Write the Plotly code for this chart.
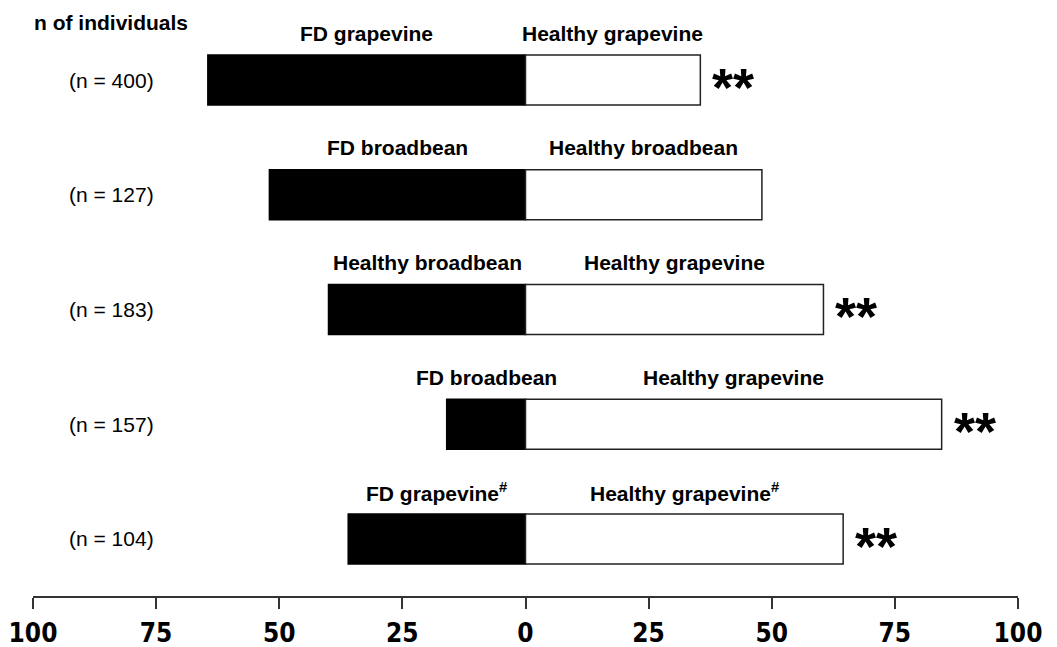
import plotly.graph_objects as go

rows = ["(n = 400)", "(n = 127)", "(n = 183)", "(n = 157)", "(n = 104)"]
left_labels = ["FD grapevine", "FD broadbean", "Healthy broadbean", "FD broadbean", "FD grapevine<sup>#</sup>"]
right_labels = ["Healthy grapevine", "Healthy broadbean", "Healthy grapevine", "Healthy grapevine", "Healthy grapevine<sup>#</sup>"]
left_values = [64.5, 52, 40, 16, 36]
right_values = [35.5, 48, 60.5, 84.5, 64.5]
significance = ["**", "", "**", "**", "**"]
tick_values = [-100, -75, -50, -25, 0, 25, 50, 75, 100]
tick_text = ["100", "75", "50", "25", "0", "25", "50", "75", "100"]

ypos = list(range(len(rows)))

fig = go.Figure()
fig.add_trace(go.Bar(
    y=ypos, x=[-v for v in left_values], orientation="h", width=0.435,
    marker=dict(color="black", line=dict(color="black", width=1.5)),
    showlegend=False, hoverinfo="skip",
))
fig.add_trace(go.Bar(
    y=ypos, x=right_values, orientation="h", width=0.435,
    marker=dict(color="white", line=dict(color="#222222", width=1.5)),
    showlegend=False, hoverinfo="skip",
))

ann = []
label_font = dict(family="Liberation Sans, Arial, sans-serif", size=21, color="black")
for i in ypos:
    ann.append(dict(x=-left_values[i] / 2, y=i, yshift=47, text="<b>%s</b>" % left_labels[i],
                    showarrow=False, xref="x", yref="y", font=label_font))
    ann.append(dict(x=right_values[i] / 2, y=i, yshift=47, text="<b>%s</b>" % right_labels[i],
                    showarrow=False, xref="x", yref="y", font=label_font))
    ann.append(dict(x=(111 - 8 - 25) / 985, y=i, text=rows[i], showarrow=False, xref="paper", yref="y",
                    xanchor="center", font=dict(family="Liberation Sans, Arial, sans-serif", size=21, color="black")))
    if significance[i]:
        ann.append(dict(x=right_values[i], y=i, xshift=10, yshift=-7, text="<b>%s</b>" % significance[i],
                        showarrow=False, xref="x", yref="y", xanchor="left",
                        font=dict(family="Liberation Sans, Arial, sans-serif", size=54, color="black")))
ann.append(dict(x=(32 - 8 - 25) / 985, y=1 - 14 / 588, xref="paper", yref="paper",
                text="<b>n of individuals</b>", showarrow=False,
                xanchor="left", yanchor="middle", font=label_font))

fig.update_layout(
    barmode="relative",
    width=1049, height=639,
    margin=dict(l=25, r=39, t=0, b=51, autoexpand=False),
    paper_bgcolor="white", plot_bgcolor="white",
    annotations=ann,
    xaxis=dict(range=[-100, 100], tickvals=tick_values, ticktext=["<b>%s</b>" % t for t in tick_text],
               showgrid=False, zeroline=False, showline=True, linecolor="#333333", linewidth=2,
               ticks="outside", ticklen=11, tickwidth=1.5, tickcolor="#333333",
               tickfont=dict(family="DejaVu Sans Condensed, DejaVu Sans, sans-serif",
                             size=26, color="black"),
               ticklabelstandoff=2, ticklabeloverflow="allow", automargin=False,
               anchor="y", fixedrange=True),
    yaxis=dict(range=[4.497, -72 / 114.75], showgrid=False, zeroline=False, showticklabels=False,
               showline=False, ticks="", automargin=False),
)
fig.write_html("out.html")
